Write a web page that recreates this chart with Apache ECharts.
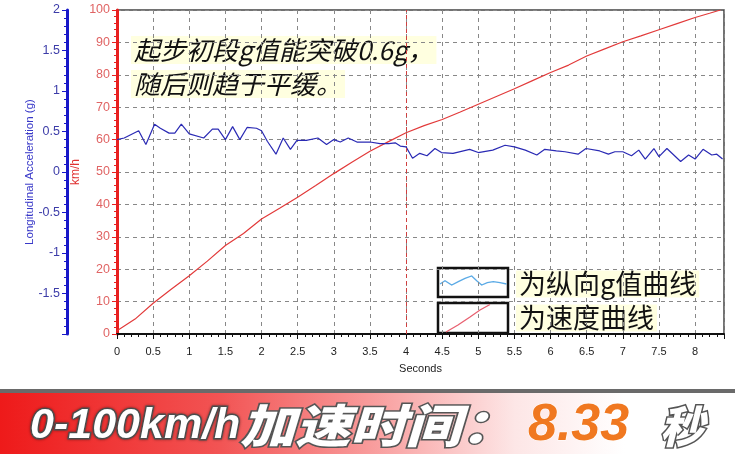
<!DOCTYPE html>
<html><head><meta charset="utf-8">
<script src="https://cdn.jsdelivr.net/npm/echarts@6/dist/echarts.min.js"></script>
<style>html,body{margin:0;padding:0;background:#fff}#c{width:735px;height:454px}</style>
</head><body><div id="c"></div>
<script>
// Speed curve (km/h) vs time (s)
const speedTime  = [0,0.25,0.5,0.75,1,1.25,1.5,1.75,2,2.25,2.5,2.75,3,3.25,3.5,3.75,4,4.25,4.5,4.75,5,5.25,5.5,5.75,6,6.25,6.5,6.75,7,7.25,7.5,7.75,8,8.2,8.35];
const speedValue = [1,4.6,9.5,13.8,18,22.5,27.3,31,35.5,38.8,42.2,45.8,49.5,53,56.4,59.3,62.1,64.3,66.2,68.5,70.9,73.3,75.7,78.2,80.7,83,85.8,88,90.2,92,93.9,95.8,97.7,99,100];
// Longitudinal acceleration (g) vs time (s)
const gTime  = [0,0.1,0.3,0.4,0.52,0.6,0.72,0.8,0.89,1.0,1.2,1.32,1.4,1.5,1.6,1.7,1.8,1.93,2.0,2.08,2.2,2.3,2.4,2.49,2.62,2.78,2.9,3.0,3.09,3.2,3.32,3.5,3.64,3.76,3.85,3.92,4.0,4.09,4.19,4.29,4.4,4.49,4.65,4.88,5.0,5.2,5.37,5.5,5.65,5.81,5.92,6.08,6.2,6.38,6.49,6.68,6.8,6.89,7.0,7.12,7.22,7.31,7.43,7.5,7.61,7.8,7.91,8.0,8.11,8.23,8.3,8.38];
const gValue = [0.40,0.42,0.51,0.34,0.59,0.54,0.48,0.48,0.59,0.47,0.42,0.53,0.53,0.40,0.56,0.40,0.55,0.54,0.51,0.38,0.22,0.42,0.28,0.39,0.39,0.42,0.34,0.40,0.37,0.42,0.37,0.37,0.35,0.35,0.36,0.32,0.31,0.17,0.23,0.20,0.29,0.24,0.23,0.28,0.24,0.27,0.33,0.31,0.27,0.21,0.28,0.26,0.25,0.22,0.29,0.26,0.22,0.25,0.25,0.20,0.27,0.16,0.29,0.19,0.29,0.13,0.21,0.16,0.28,0.21,0.22,0.16];
const markTime = 4;
const xName = 'Seconds';
const speedAxisName = 'km/h';
const gAxisName = 'Longitudinal Acceleration (g)';
const noteLines = ['起步初段g值能突破0.6g，', '随后则趋于平缓。'];
const legendTexts = ['为纵向g值曲线', '为速度曲线'];
const bannerParts = ['0-100km/h', '加速时间：', '8.33', '秒'];

const chart = echarts.init(document.getElementById('c'), null, {renderer:'canvas'});
const sansFam = 'Liberation Sans, Arial, sans-serif';
const cjk = '"Noto Sans CJK SC", sans-serif';

const option = {
  animation: false,
  backgroundColor: '#fff',
  grid: {left:117, right:11, top:10, bottom:120, show:true, borderColor:'#444', borderWidth:1.5, backgroundColor:'#fff'},
  xAxis: {
    type:'value', min:0, max:8.4, interval:0.5,
    axisLine:{onZero:false, lineStyle:{color:'#111', width:2}},
    axisTick:{length:5, lineStyle:{color:'#111'}},
    minorTick:{show:true, splitNumber:5, length:3, lineStyle:{color:'#111'}},
    axisLabel:{color:'#222', fontSize:11, margin:12, showMaxLabel:false, fontFamily:sansFam},
    splitLine:{show:true, lineStyle:{type:[4,4], color:'#888', width:1}},
    name:xName, nameLocation:'middle', nameGap:29, nameMoveOverlap:false,
    nameTextStyle:{color:'#222', fontSize:11, fontFamily:sansFam}
  },
  yAxis: [
    {
      type:'value', position:'left', min:0, max:100, interval:10,
      axisLine:{show:true, lineStyle:{color:'#e82020', width:3}},
      axisTick:{show:true, length:5, lineStyle:{color:'#e82020'}},
      minorTick:{show:true, splitNumber:5, length:3, lineStyle:{color:'#e82020'}},
      axisLabel:{color:'#e06464', fontSize:12.5, margin:7, fontFamily:sansFam},
      splitLine:{show:true, lineStyle:{type:[4,4], color:'#888', width:1}},
      name:speedAxisName, nameLocation:'middle', nameGap:35, nameRotate:90, nameMoveOverlap:false,
      nameTextStyle:{color:'#e03030', fontSize:12, fontFamily:sansFam}
    },
    {
      type:'value', position:'left', offset:50, min:-2, max:2, interval:0.5,
      axisLine:{show:true, lineStyle:{color:'#1818c8', width:3}},
      axisTick:{show:true, length:5, lineStyle:{color:'#1818c8'}},
      minorTick:{show:true, splitNumber:5, length:3, lineStyle:{color:'#1818c8'}},
      axisLabel:{color:'#3c3ca8', fontSize:12.5, margin:7, showMinLabel:false, fontFamily:sansFam},
      splitLine:{show:false},
      name:gAxisName, nameLocation:'middle', nameGap:31, nameRotate:90, nameMoveOverlap:false,
      nameTextStyle:{color:'#3838c8', fontSize:11.5, fontFamily:sansFam}
    }
  ],
  series: [
    {
      type:'line', yAxisIndex:0, showSymbol:false, symbol:'none',
      data: speedTime.map((t,i)=>[t, speedValue[i]]),
      lineStyle:{color:'#e23a3a', width:1.2}, itemStyle:{color:'#e23a3a'},
      markLine:{silent:true, symbol:['none','none'], label:{show:false},
        lineStyle:{color:'#d04040', type:[4,3], width:1},
        data:[{xAxis:markTime}]}
    },
    {
      type:'line', yAxisIndex:1, showSymbol:false, symbol:'none',
      data: gTime.map((t,i)=>[t, gValue[i]]),
      lineStyle:{color:'#2a2ab4', width:1.2}, itemStyle:{color:'#2a2ab4'}
    }
  ],
  graphic: [
    {type:'text', x:131, y:50, style:{text:noteLines[0], fill:'#111', font:'italic 26px '+cjk, verticalAlign:'middle', textVerticalAlign:'middle', backgroundColor:'rgba(255,255,222,0.95)', padding:[1,3]}},
    {type:'text', x:131, y:84, style:{text:noteLines[1], fill:'#111', font:'italic 26px '+cjk, verticalAlign:'middle', textVerticalAlign:'middle', backgroundColor:'rgba(255,255,222,0.95)', padding:[1,3]}},
    {type:'rect', shape:{x:438, y:268, width:70, height:29}, style:{fill:'#fff', stroke:'#111', lineWidth:2.5}},
    {type:'rect', shape:{x:438, y:303, width:70, height:30}, style:{fill:'#fff', stroke:'#111', lineWidth:2.5}},
    {type:'polyline', shape:{points:[[440,284],[445,280.7],[451.7,285],[458.3,281.7],[465,278.3],[471.7,276],[476.7,280.7],[481.7,285],[487.3,282.7],[493.3,281.7],[500,282.7],[506.5,284]]}, style:{stroke:'#5aaae6', lineWidth:1.3, fill:null}},
    {type:'polyline', shape:{points:[[446,332],[458,325],[470,317],[480,310],[490,304.5]]}, style:{stroke:'#e86070', lineWidth:1.3, fill:null}},
    {type:'text', x:516, y:284, style:{text:legendTexts[0], fill:'#111', font:'27px '+cjk, verticalAlign:'middle', textVerticalAlign:'middle', backgroundColor:'rgba(255,255,222,0.95)', padding:[0,3]}},
    {type:'text', x:516, y:318, style:{text:legendTexts[1], fill:'#111', font:'27px '+cjk, verticalAlign:'middle', textVerticalAlign:'middle', backgroundColor:'rgba(255,255,222,0.95)', padding:[0,3]}},
    {type:'rect', shape:{x:0, y:389, width:735, height:4}, style:{fill:'#6a6a6a'}},
    {type:'rect', shape:{x:0, y:393, width:735, height:61}, style:{fill:new echarts.graphic.LinearGradient(0,0,1,0,[
      {offset:0, color:'#ee1a1a'},{offset:0.3, color:'#f25454'},{offset:0.5, color:'#f89a9a'},{offset:0.7, color:'#fde6e6'},{offset:0.85, color:'#ffffff'},{offset:1, color:'#ffffff'}])}},
    {type:'text', x:30, y:426, style:{text:bannerParts[0], fill:'#fff', stroke:'#555', lineWidth:3, font:'italic bold 43px '+sansFam, verticalAlign:'middle', textVerticalAlign:'middle', textShadowColor:'rgba(0,0,0,0.4)', textShadowBlur:3}},
    {type:'text', x:240, y:426, scaleX:1.2, style:{text:bannerParts[1], fill:'#fff', stroke:'#555', lineWidth:3, font:'italic 900 46px '+cjk, verticalAlign:'middle', textVerticalAlign:'middle'}},
    {type:'text', x:528, y:426, style:{text:bannerParts[2], fill:'#f07820', stroke:'#fff', lineWidth:1, font:'italic bold 52px '+sansFam, verticalAlign:'middle', textVerticalAlign:'middle'}},
    {type:'text', x:660, y:426, style:{text:bannerParts[3], fill:'#fff', stroke:'#555', lineWidth:3, font:'italic 900 44px '+cjk, verticalAlign:'middle', textVerticalAlign:'middle'}}
  ]
};
chart.setOption(option);
</script>
</body></html>
